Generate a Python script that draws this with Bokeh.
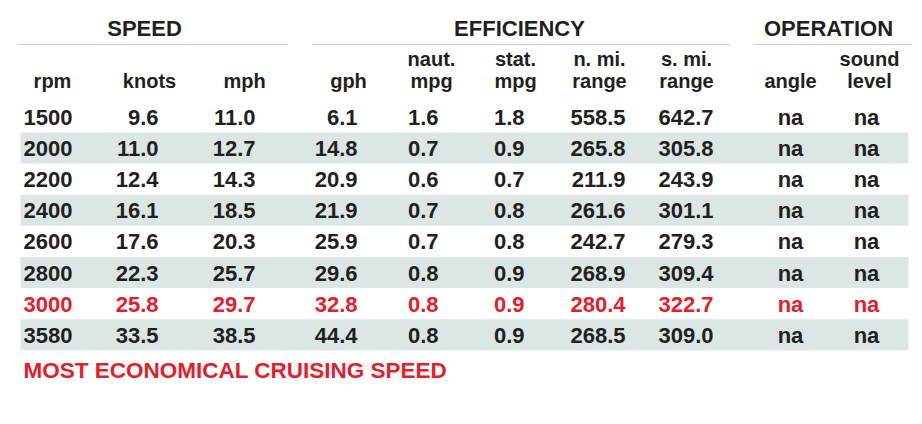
from bokeh.plotting import figure
from bokeh.models import Range1d, ColumnDataSource
from bokeh.core.properties import value
from bokeh.embed import file_html
from bokeh.resources import INLINE

# ---- data ----
rpm = [1500, 2000, 2200, 2400, 2600, 2800, 3000, 3580]
knots = [9.6, 11.0, 12.4, 16.1, 17.6, 22.3, 25.8, 33.5]
mph = [11.0, 12.7, 14.3, 18.5, 20.3, 25.7, 29.7, 38.5]
gph = [6.1, 14.8, 20.9, 21.9, 25.9, 29.6, 32.8, 44.4]
naut_mpg = [1.6, 0.7, 0.6, 0.7, 0.7, 0.8, 0.8, 0.8]
stat_mpg = [1.8, 0.9, 0.7, 0.8, 0.8, 0.9, 0.9, 0.9]
nmi_range = [558.5, 265.8, 211.9, 261.6, 242.7, 268.9, 280.4, 268.5]
smi_range = [642.7, 305.8, 243.9, 301.1, 279.3, 309.4, 322.7, 309.0]
angle = ["na"] * 8
sound_level = ["na"] * 8
groups = ["SPEED", "EFFICIENCY", "OPERATION"]
headers = [("", "rpm"), ("", "knots"), ("", "mph"), ("", "gph"),
           ("naut.", "mpg"), ("stat.", "mpg"), ("n. mi.", "range"),
           ("s. mi.", "range"), ("", "angle"), ("sound", "level")]
highlight_rpm = 3000
note = "MOST ECONOMICAL CRUISING SPEED"

# ---- style / layout ----
FONT = value("Liberation Sans")
DARK = "#231f20"
RED = "#e2202c"
BAND = "#dce6e4"
DOT = "#9a9a9a"
TS = -9  # text baseline correction

W, H = 914, 416
p = figure(width=W, height=H, output_backend="svg", toolbar_location=None,
           x_range=Range1d(0, W), y_range=Range1d(H, 0),
           x_axis_location=None, y_axis_location=None, min_border=0,
           background_fill_color="white", border_fill_color="white")
p.outline_line_color = None
p.xgrid.visible = False
p.ygrid.visible = False

row0, pitch = 126, 31.1
ys = [row0 + pitch * i for i in range(len(rpm))]

# alternating bands
band_rows = [y for i, y in enumerate(ys) if i % 2 == 1]
p.quad(left=20, right=908, top=[y - 25 for y in band_rows],
       bottom=[y + 6 for y in band_rows], fill_color=BAND, line_color=None)

colors = [RED if r == highlight_rpm else DARK for r in rpm]

columns = [
    ([str(v) for v in rpm], 72, "right"),
    ([f"{v:.1f}" for v in knots], 158, "right"),
    ([f"{v:.1f}" for v in mph], 255, "right"),
    ([f"{v:.1f}" for v in gph], 357, "right"),
    ([f"{v:.1f}" for v in naut_mpg], 438, "right"),
    ([f"{v:.1f}" for v in stat_mpg], 524, "right"),
    ([f"{v:.1f}" for v in nmi_range], 625, "right"),
    ([f"{v:.1f}" for v in smi_range], 713, "right"),
    (angle, 790, "center"),
    (sound_level, 866, "center"),
]
for vals, x, align in columns:
    src = ColumnDataSource(dict(x=[x] * len(vals), y=[y + TS for y in ys],
                                t=vals, c=colors))
    p.text(x="x", y="y", text="t", text_color="c", source=src,
           text_align=align, text_baseline="alphabetic", text_font=FONT,
           text_font_style="bold", text_font_size="22px")

# column headers
hdr_x = [52, 149, 244, 348, 431, 515, 599, 686, 790, 869]
l1x, l1t, l2x, l2t = [], [], [], []
for (a, b), x in zip(headers, hdr_x):
    if a:
        l1x.append(x); l1t.append(a)
    l2x.append(x); l2t.append(b)
p.text(x=l1x, y=[67 + TS] * len(l1x), text=l1t, text_color=DARK,
       text_align="center", text_baseline="alphabetic", text_font=FONT,
       text_font_style="bold", text_font_size="20px")
p.text(x=l2x, y=[89 + TS] * len(l2x), text=l2t, text_color=DARK,
       text_align="center", text_baseline="alphabetic", text_font=FONT,
       text_font_style="bold", text_font_size="20px")

# group titles and dotted rules
p.text(x=[144, 519, 828], y=[37 + TS] * 3, text=groups, text_color=DARK,
       text_align="center", text_baseline="alphabetic", text_font=FONT,
       text_font_style="bold", text_font_size="22px")
p.segment(x0=[18, 312, 754], x1=[287, 730, 912], y0=[44] * 3, y1=[44] * 3,
          line_color=DOT, line_width=1, line_dash="1 1")

# footnote
p.text(x=[23], y=[379 + TS], text=[note], text_color=RED, text_align="left",
       text_baseline="alphabetic", text_font=FONT, text_font_style="bold",
       text_font_size="22.5px")

open("out.html", "w").write(file_html(p, INLINE))
